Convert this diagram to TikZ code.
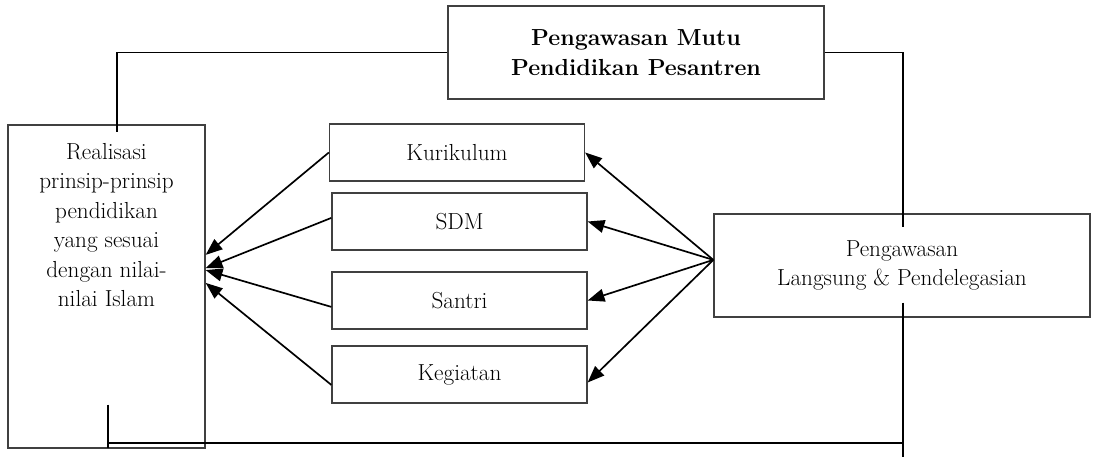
\documentclass[tikz,border=0pt]{standalone}
\usepackage{fontspec}
\usetikzlibrary{calc}
\usetikzlibrary{positioning,arrows.meta}

\begin{document}
\begin{tikzpicture}[
        x=0.025cm, y=-0.025cm,
        BoxCfg/.style={
            draw=black!75,
            line width=0.9pt,
            align=center,
            inner sep=0pt,
            font=\fontsize{16.5}{21}\selectfont
        },
        ItemCfg/.style={
            BoxCfg,
            minimum width=6.375cm,
            minimum height=1.425cm
        },
        LineCfg/.style={line width=1.3pt},
        ArrowCfg/.style={line width=1.2pt,-{Triangle[length=0.42cm,width=0.32cm]}}
    ]
    \useasboundingbox (0,0) rectangle (1094,457);
    
    %top box
    \node[BoxCfg,minimum width=9.4cm,minimum height=2.325cm,font=\fontsize{16.5}{21}\selectfont\bfseries] (mutu) at (636,52.5) {Pengawasan Mutu\\Pendidikan Pesantren};
    
    %left box
    \node[BoxCfg,minimum width=4.925cm,minimum height=8.075cm] (real) at (106.5,286.5) {};
    \node[BoxCfg,draw=none,anchor=north] (realtext) at ([yshift=-0.45cm]real.north) {Realisasi\\prinsip-prinsip\\pendidikan\\yang sesuai\\dengan nilai-\\nilai Islam};
    
    %middle boxes
    \node[ItemCfg] (kur) at (457,152.5) {Kurikulum};
    \node[ItemCfg] (sdm) at (459.5,221.5) {SDM};
    \node[ItemCfg] (san) at (459.5,300.5) {Santri};
    \node[ItemCfg] (keg) at (459.5,374.5) {Kegiatan};
    
    %right box
    \node[BoxCfg,minimum width=9.4cm,minimum height=2.575cm] (peng) at (902,265.5) {Pengawasan\\Langsung \& Pendelegasian};
    
    %arrows to the left box
    \draw[ArrowCfg] (kur.west) -- ([yshift=0.79cm]real.east);
    \draw[ArrowCfg] ([yshift=0.09cm]sdm.west) -- ([yshift=0.46cm]real.east);
    \draw[ArrowCfg] ([yshift=-0.16cm]san.west) -- ([yshift=0.41cm]real.east);
    \draw[ArrowCfg] ([yshift=-0.26cm]keg.west) -- ([yshift=0.09cm]real.east);
    
    %arrows from the right box
    \coordinate (hub) at ([yshift=0.14cm]peng.west);
    \draw[ArrowCfg] (hub) -- (kur.east);
    \draw[ArrowCfg] (hub) -- (sdm.east);
    \draw[ArrowCfg] (hub) -- (san.east);
    \draw[ArrowCfg] (hub) -- ([yshift=-0.2cm]keg.east);
    
    %connections
    \coordinate (realtop) at ([xshift=0.26cm,yshift=-0.2cm]real.north);
    \coordinate (pengtop) at ([xshift=0.025cm,yshift=-0.35cm]peng.north);
    \coordinate (pengbot) at ([xshift=0.025cm,yshift=0.375cm]peng.south);
    \coordinate (realbot) at ([xshift=0.04cm,yshift=1.1cm]real.south);
    \coordinate (joint) at ($(realbot)+(0,38)$);
    \draw[LineCfg] (mutu.west) -| (realtop);
    \draw[LineCfg] (mutu.east) -| (pengtop);
    \draw[LineCfg] (pengbot) -- ++(0,155);
    \draw[LineCfg] (realbot) -- ++(0,43);
    \draw[LineCfg] (joint) -- (joint -| pengbot);
    
\end{tikzpicture}
\end{document}
